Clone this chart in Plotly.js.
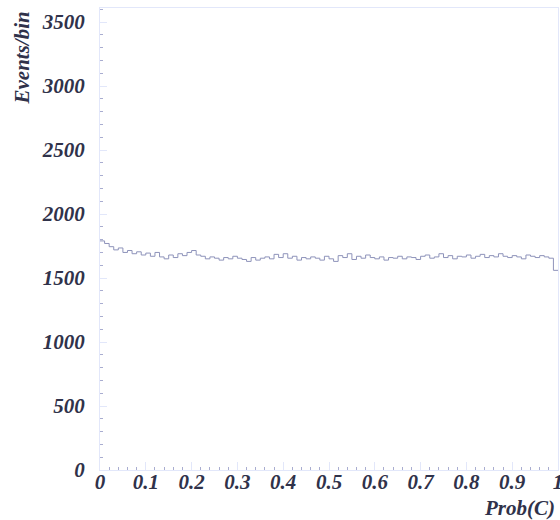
<!DOCTYPE html>
<html>
<head>
<meta charset="utf-8">
<script src="https://cdn.plot.ly/plotly-3.0.1.min.js"></script>
<style>
  html, body { margin: 0; padding: 0; background: #ffffff; }
  #chart { width: 560px; height: 520px; }
</style>
</head>
<body>
<div id="chart"></div>
<script>
// Histogram of Prob(C): 100 bins of width 0.01 over [0, 1]
const binLow = 0;
const binWidth = 0.01;
const eventsPerBin = [
  1790, 1770, 1745, 1720, 1735, 1700, 1715, 1690, 1705, 1680,
  1695, 1670, 1700, 1665, 1650, 1680, 1660, 1690, 1675, 1700,
  1715, 1680, 1670, 1650, 1665, 1655, 1640, 1660, 1650, 1670,
  1655, 1645, 1630, 1660, 1640, 1655, 1665, 1650, 1685, 1660,
  1690, 1655, 1670, 1640, 1660, 1650, 1665, 1655, 1640, 1670,
  1650, 1630, 1675, 1660, 1690, 1645, 1670, 1655, 1680, 1660,
  1650, 1665, 1640, 1660, 1655, 1670, 1650, 1665, 1660, 1645,
  1670, 1680, 1655, 1665, 1690, 1660, 1675, 1650, 1670, 1665,
  1680, 1655, 1670, 1685, 1660, 1675, 1665, 1690, 1670, 1660,
  1675, 1665, 1650, 1680, 1670, 1660, 1675, 1665, 1655, 1560
];
const xTickVals = [0, 0.1, 0.2, 0.3, 0.4, 0.5, 0.6, 0.7, 0.8, 0.9, 1];
const xTickText = ['0', '0.1', '0.2', '0.3', '0.4', '0.5', '0.6', '0.7', '0.8', '0.9', '1'];
const yTickVals = [0, 500, 1000, 1500, 2000, 2500, 3000, 3500];
const yTickText = ['0', '500', '1000', '1500', '2000', '2500', '3000', '3500'];
const xTitle = 'Prob(C)';
const yTitle = 'Events/bin';

// Step outline: each bin edge, with the last value repeated to close the final bin
const edges = eventsPerBin.map((_, i) => binLow + i * binWidth);
edges.push(binLow + eventsPerBin.length * binWidth);
const steps = eventsPerBin.concat([eventsPerBin[eventsPerBin.length - 1]]);

function labelFont() {
  return {
    family: '"Liberation Serif", "DejaVu Serif", serif',
    size: 21,
    color: '#30324a',
    weight: 'bold',
    style: 'italic'
  };
}

const frameColor = '#e2e7fa';
const tickColor = '#a9add0';

const trace = {
  x: edges,
  y: steps,
  type: 'scatter',
  mode: 'lines',
  line: { shape: 'hv', color: '#8e93ba', width: 1 },
  hoverinfo: 'skip'
};

const layout = {
  width: 560,
  height: 520,
  margin: { l: 100, r: 2, t: 8, b: 50, pad: 0 },
  paper_bgcolor: '#ffffff',
  plot_bgcolor: '#ffffff',
  showlegend: false,
  xaxis: {
    range: [0, 1],
    tickvals: xTickVals,
    ticktext: xTickText,
    ticks: 'inside',
    ticklen: 8,
    tickwidth: 1,
    tickcolor: frameColor,
    minor: { dtick: 0.02, ticks: 'inside', ticklen: 3, tickcolor: tickColor, tickwidth: 1 },
    showgrid: false,
    zeroline: false,
    showline: true,
    linecolor: frameColor,
    linewidth: 1,
    mirror: true,
    tickfont: labelFont(),
    ticklabeloverflow: 'allow',
    ticklabelstandoff: -7
  },
  yaxis: {
    range: [0, 3610],
    tickvals: yTickVals,
    ticktext: yTickText,
    ticks: 'inside',
    ticklen: 7,
    tickwidth: 1,
    tickcolor: frameColor,
    minor: { dtick: 100, ticks: 'inside', ticklen: 3, tickcolor: tickColor, tickwidth: 1 },
    showgrid: false,
    zeroline: false,
    showline: true,
    linecolor: frameColor,
    linewidth: 1,
    mirror: true,
    tickfont: labelFont(),
    ticklabeloverflow: 'allow',
    ticklabelstandoff: 10
  },
  annotations: [
    {
      text: yTitle,
      xref: 'paper', yref: 'paper',
      x: -0.170, y: 0.996,
      xanchor: 'center', yanchor: 'top',
      textangle: -90,
      showarrow: false,
      font: labelFont()
    },
    {
      text: xTitle,
      xref: 'paper', yref: 'paper',
      x: 0.998, y: -0.082,
      xanchor: 'right', yanchor: 'middle',
      showarrow: false,
      font: labelFont()
    }
  ]
};

Plotly.newPlot('chart', [trace], layout, { displayModeBar: false, staticPlot: true });
</script>
</body>
</html>
